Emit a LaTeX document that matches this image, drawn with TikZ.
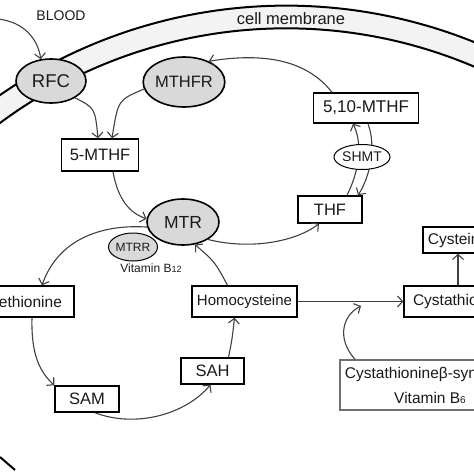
\documentclass[tikz,border=0pt]{standalone}
\usepackage{fontspec}
\setmainfont{Liberation Sans}
\usetikzlibrary{arrows.meta,shapes.geometric,calc}
\definecolor{ink}{HTML}{1A1A1A}
\definecolor{arrowc}{HTML}{404040}
\definecolor{elfill}{HTML}{D9D9D9}
\definecolor{memfill}{HTML}{F3F3F3}
\definecolor{cbsline}{HTML}{707070}
\begin{document}
\begin{tikzpicture}[x=1pt,y=-1pt,
  box/.style={draw=black,line width=1.5pt,fill=white,inner sep=0pt,text=ink,font=\fontsize{16.5}{18}\selectfont},
  enz/.style={ellipse,draw=black,line width=1.6pt,fill=elfill,inner sep=0pt,text=ink},
  arr/.style={draw=arrowc,line width=1.1pt,-{Straight Barb[length=5pt,width=11pt,line width=1.1pt]}},
  memline/.style={line width=2pt,draw=black},
  lbl/.style={text=ink,inner sep=0pt}]
\useasboundingbox (0,0) rectangle (474,474);
\clip (0,0) rectangle (474,474);
% membrane
\fill[memfill] plot[domain=-132:-58,samples=90] ({286.2+502.7*cos(\x)},{508.3+502.7*sin(\x)})
  -- plot[domain=-58:-132,samples=90] ({286.2+480*cos(\x)},{508.3+480*sin(\x)}) -- cycle;
\draw[memline] plot[domain=-132:-58,samples=90] ({286.2+502.7*cos(\x)},{508.3+502.7*sin(\x)});
\draw[memline] plot[domain=-132:-58,samples=90] ({286.2+480*cos(\x)},{508.3+480*sin(\x)});
\draw[memline] (0,457) -- (15,470);
% labels
\node[lbl,font=\fontsize{14}{16}\selectfont] (blood) at (61,16) {BLOOD};
\node[lbl,font=\fontsize{16.5}{18}\selectfont] (cellm) at (291,19) {cell membrane};
% enzymes
\node[enz,minimum width=70pt,minimum height=44pt,font=\fontsize{18.5}{20}\selectfont] (rfc) at (51,81) {RFC};
\node[enz,minimum width=74pt,minimum height=50pt,font=\fontsize{16.5}{18}\selectfont] (mthfr) at (184,82) {MTHFR};
\node[enz,minimum width=72pt,minimum height=46pt,font=\fontsize{17.5}{19}\selectfont] (mtr) at (183,222) {MTR};
\node[enz,line width=1pt,minimum width=46pt,minimum height=28pt,font=\fontsize{12}{14}\selectfont] (mtrr) at (133,247) {MTRR};
\node[lbl,font=\fontsize{12}{14}\selectfont] (vb12) at (151,268) {Vitamin B{\fontsize{9}{10}\selectfont 12}};
% boxes
\node[box,minimum width=77pt,minimum height=32pt] (fivemthf) at (100,155) {5-MTHF};
\node[box,minimum width=105pt,minimum height=30pt,font=\fontsize{17}{18}\selectfont] (mthf510) at (366,108) {5,10-MTHF};
\node[box,minimum width=64pt,minimum height=27pt] (thf) at (330,209.5) {THF};
\node[box,minimum width=100pt,minimum height=31pt,font=\fontsize{15.5}{17}\selectfont] (meth) at (24,301.5) {Methionine};
\node[box,minimum width=105pt,minimum height=31pt,font=\fontsize{15}{17}\selectfont] (homo) at (244.5,301.5) {Homocysteine};
\node[box,minimum width=112pt,minimum height=31pt,font=\fontsize{15.5}{17}\selectfont] (cysta) at (460,301.5) {Cystathionine};
\node[box,minimum width=70pt,minimum height=26pt,font=\fontsize{15.5}{17}\selectfont] (cyst) at (458,240) {Cysteine};
\node[box,minimum width=64pt,minimum height=26pt] (sam) at (87,399) {SAM};
\node[box,minimum width=63pt,minimum height=26pt] (sah) at (212.5,371) {SAH};
\node[box,draw=cbsline,line width=1.3pt,minimum width=180pt,minimum height=50pt,align=center,font=\fontsize{15.5}{25}\selectfont] (cbs) at (430,385) {Cystathionineβ-synthase\\Vitamin B{\fontsize{10}{10}\selectfont 6}};
% connectors
\coordinate (bloodstart) at (-2,19);
\coordinate (cbstip) at (361,306);
\draw[arr] (bloodstart) .. controls (25,22) and (38,40) .. (rfc.115);
\draw[arr] (rfc.-35) .. controls (95,108) .. ([xshift=-2pt]fivemthf.north);
\draw[arr] (mthfr.190) .. controls (118,100) .. ([xshift=12pt]fivemthf.north);
\draw[arr] ([xshift=-34pt]mthf510.north) .. controls (305,58) and (260,53) .. (mthfr.40);
\draw[arr] ([xshift=13pt]fivemthf.south) .. controls (118,200) and (130,213) .. (mtr.175);
\draw[arr] (mtr.188) .. controls (100,224) and (58,240) .. ([xshift=18pt]meth.north);
\draw[arr] (mtr.-35) .. controls (250,250) and (295,242) .. ([xshift=-11pt]thf.south);
\draw[arr] ([xshift=-17pt]homo.north) .. controls (215,262) .. (mtr.-62);
\draw[arr] (homo.east) -- (cysta.west);
\draw[arr] (cysta.north -| cyst.south) -- (cyst.south);
\draw[arr] ([xshift=-75pt]cbs.north) .. controls (336,338) and (343,315) .. (cbstip);
\draw[arr] ([xshift=8pt]meth.south) .. controls (31,355) and (40,372) .. (sam.north west);
\draw[arr] ([xshift=8pt]sam.south) .. controls (135,428) and (185,415) .. ([xshift=-2pt]sah.south);
\draw[arr] ([xshift=16pt]sah.north) .. controls (232,340) .. ([xshift=-10pt]homo.south);
\draw[arr] ([xshift=17pt]thf.north) .. controls (362,165) and (361,140) .. ([xshift=-13pt]mthf510.south);
\draw[arr] ([xshift=2pt]mthf510.south) .. controls (376,145) and (371,175) .. ([xshift=28pt]thf.north);
\node[ellipse,draw=black,line width=1pt,fill=white,inner sep=0pt,minimum width=46pt,minimum height=25pt,text=ink,font=\fontsize{14}{16}\selectfont] (shmt) at (362,157) {SHMT};
\end{tikzpicture}
\end{document}
